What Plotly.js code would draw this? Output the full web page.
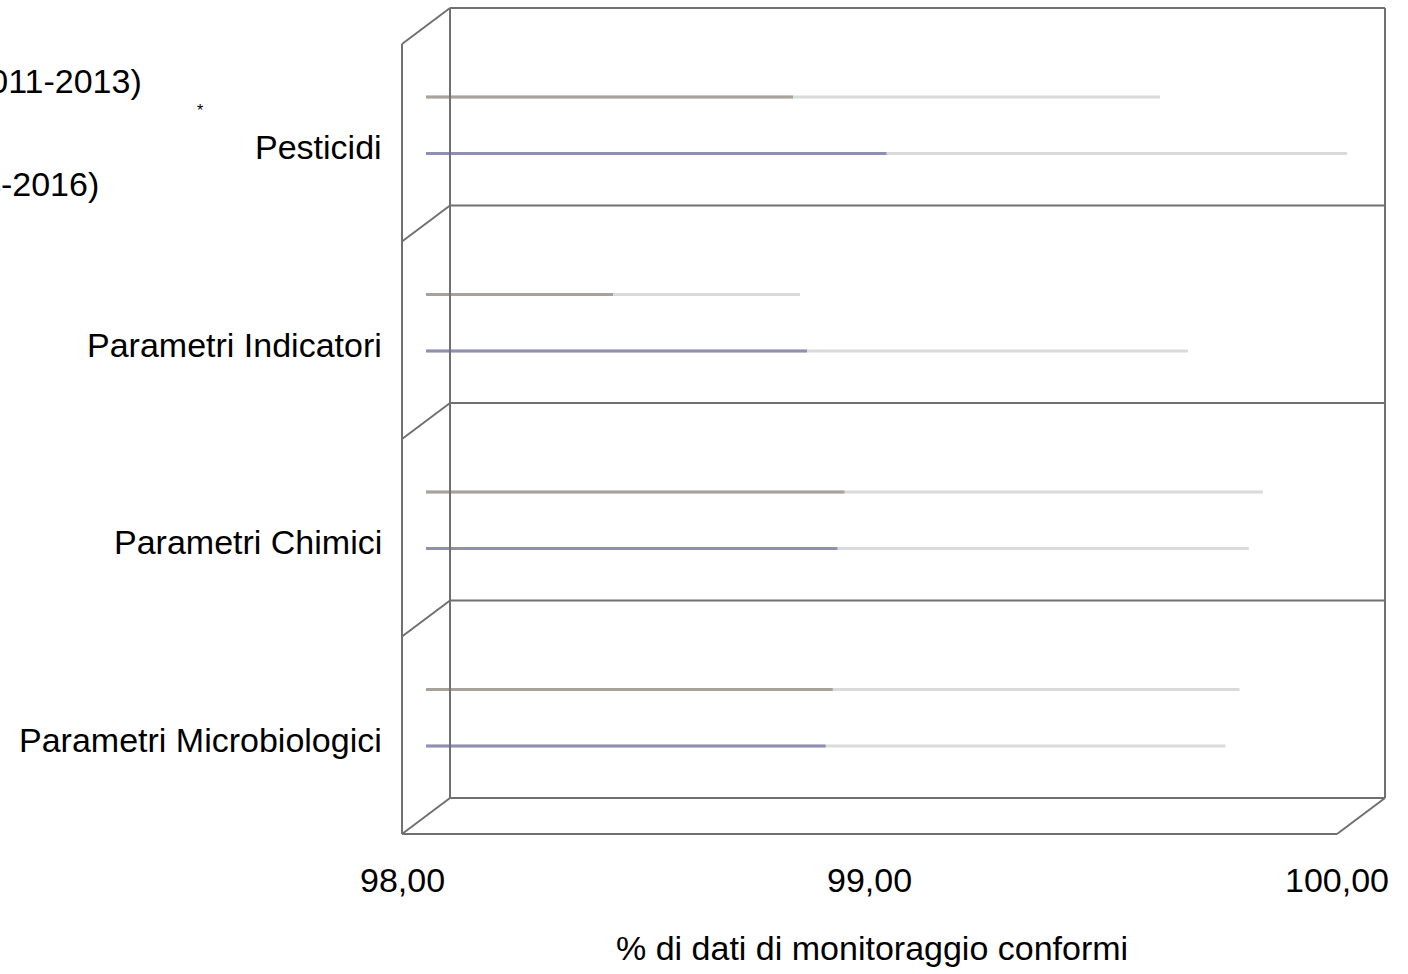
<!DOCTYPE html>
<html>
<head>
<meta charset="utf-8">
<script src="https://cdn.plot.ly/plotly-3.0.1.min.js"></script>
<style>html,body{margin:0;padding:0;background:#fff;overflow:hidden;}#chart{width:1408px;height:974px;}</style>
</head>
<body>
<div id="chart"></div>
<script>
// ---- data ----
const categories = ["Parametri Microbiologici", "Parametri Chimici", "Parametri Indicatori", "Pesticidi"];
const series1Name = "(2011-2013)";
const series2Name = "(2014-2016)";
const series1Values = [99.74, 99.79, 98.80, 99.57];
const series2Values = [99.71, 99.76, 99.63, 99.97];
const xTickValues = [98, 99, 100];
const xTitle = "% di dati di monitoraggio conformi";

// ---- style constants ----
const FONT = '"Liberation Sans", Arial, sans-serif';
const FS = 34;
const frameColor = '#707070';
const lightColor = '#dadada';
const s1Dark = '#a8a29b';
const s2Dark = '#8f8fb3';
const off1 = 0.64, off2 = 0.355;   // vertical position of each series inside a category band
const M = {l: 426, r: 47, t: 25.5, b: 157.5};
const PW = 1408 - M.l - M.r, PH = 974 - M.t - M.b;
const DXp = 24 / PW, DYp = 18 / PH; // half depth of the 3D box, in paper units
const XMIN = 98, XMAX = 100;

function lineTrace(vals, off, frac, color) {
  const x = [], y = [];
  vals.forEach((v, i) => {
    x.push(XMIN, XMIN + (v - XMIN) * frac, null);
    y.push(i + off, i + off, null);
  });
  return {type: 'scatter', mode: 'lines', x, y, line: {color, width: 3}, hoverinfo: 'skip', showlegend: false};
}

const traces = [
  lineTrace(series1Values, off1, 1, lightColor),
  lineTrace(series2Values, off2, 1, lightColor),
  lineTrace(series1Values, off1, 0.5, s1Dark),
  lineTrace(series2Values, off2, 0.5, s2Dark)
];

// ---- 3D frame (paper coords; depth d = +1 back, -1 front) ----
const n = categories.length;
const px = (v, d) => (v - XMIN) / (XMAX - XMIN) + d * DXp;
const py = (k, d) => k / n + d * DYp;
const shapes = [];
function seg(x0, y0, x1, y1) {
  shapes.push({type: 'line', xref: 'paper', yref: 'paper', x0, y0, x1, y1, line: {color: frameColor, width: 2}});
}
for (let k = 0; k <= n; k++) {
  seg(px(XMIN, 1), py(k, 1), px(XMAX, 1), py(k, 1));      // back wall horizontal
  seg(px(XMIN, -1), py(k, -1), px(XMIN, 1), py(k, 1));    // left wall diagonal
}
seg(px(XMIN, 1), py(0, 1), px(XMIN, 1), py(n, 1));        // back wall left
seg(px(XMAX, 1), py(0, 1), px(XMAX, 1), py(n, 1));        // back wall right
seg(px(XMIN, -1), py(0, -1), px(XMIN, -1), py(n, -1));    // front left vertical
seg(px(XMIN, -1), py(0, -1), px(XMAX, -1), py(0, -1));    // floor front edge
seg(px(XMAX, -1), py(0, -1), px(XMAX, 1), py(0, 1));      // floor right diagonal

// ---- annotations ----
const txt = {family: FONT, size: FS, color: '#000'};
const ann = [];
categories.forEach((c, i) => ann.push({text: c, xref: 'paper', x: 0, xanchor: 'right', xshift: -42,
  yref: 'y', y: i + 0.386, yanchor: 'middle', showarrow: false, font: txt}));
xTickValues.forEach(v => ann.push({text: v.toFixed(2).replace('.', ','), xref: 'x', x: v, xshift: -24,
  xanchor: 'center', yref: 'paper', y: 0, yshift: -63.5, yanchor: 'middle', showarrow: false, font: txt}));
ann.push({text: xTitle, xref: 'x', x: 99, xshift: -22, xanchor: 'center', yref: 'paper', y: 0, yshift: -131.5,
  yanchor: 'middle', showarrow: false, font: txt});
ann.push({text: series1Name, xref: 'paper', x: 0, xshift: -282, xanchor: 'right', yref: 'paper', y: 1,
  yshift: -54.5, yanchor: 'middle', showarrow: false, font: txt});
ann.push({text: series2Name, xref: 'paper', x: 0, xshift: -325, xanchor: 'right', yref: 'paper', y: 1,
  yshift: -157.5, yanchor: 'middle', showarrow: false, font: txt});
ann.push({text: '*', xref: 'paper', x: 0, xshift: -226, xanchor: 'center', yref: 'paper', y: 1,
  yshift: -84, yanchor: 'middle', showarrow: false, font: {family: FONT, size: 16, color: '#000'}});

const layout = {
  width: 1408, height: 974,
  margin: {l: M.l, r: M.r, t: M.t, b: M.b, pad: 0},
  paper_bgcolor: '#fff', plot_bgcolor: 'rgba(0,0,0,0)',
  showlegend: false,
  xaxis: {range: [XMIN, XMAX], showgrid: false, zeroline: false, showticklabels: false, ticks: '', showline: false, fixedrange: true},
  yaxis: {range: [0, n], showgrid: false, zeroline: false, showticklabels: false, ticks: '', showline: false, fixedrange: true},
  shapes: shapes,
  annotations: ann
};
Plotly.newPlot('chart', traces, layout, {displayModeBar: false, staticPlot: true});
</script>
</body>
</html>
